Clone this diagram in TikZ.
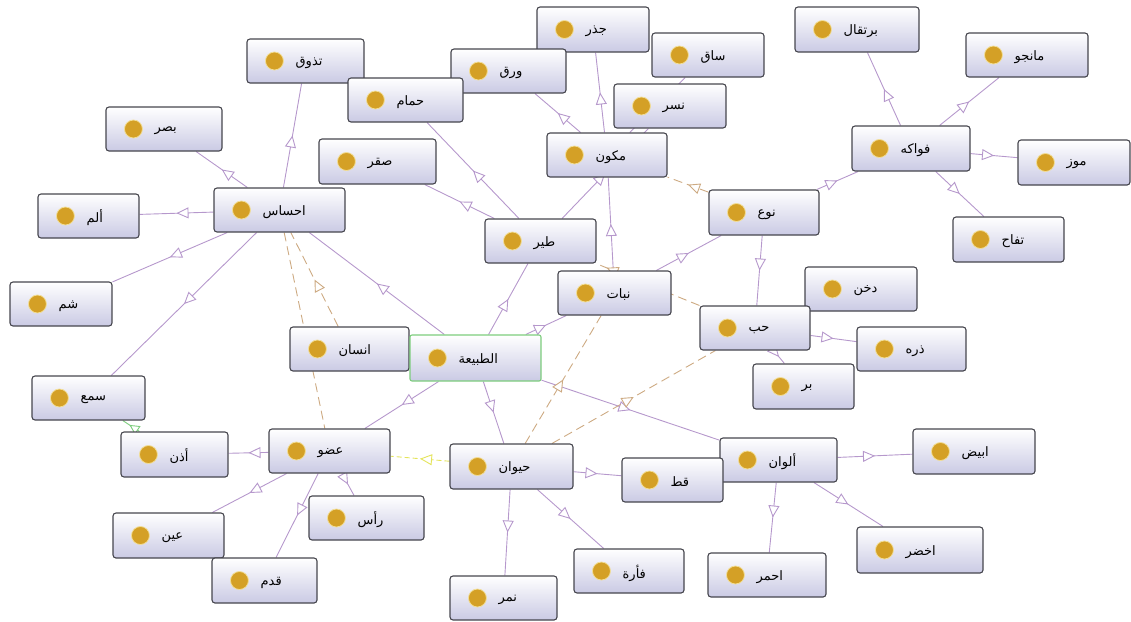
\documentclass[tikz,border=0pt]{standalone}
\usepackage{fontspec}
\newfontfamily\arabicfont[Script=Arabic]{DejaVu Sans}
\TeXXeTstate=1
\usetikzlibrary{arrows.meta,decorations.markings,backgrounds}
\definecolor{purp}{RGB}{182,152,204}
\definecolor{edgetan}{RGB}{205,170,130}
\definecolor{boxbot}{RGB}{202,202,228}
\definecolor{boxdraw}{RGB}{70,70,78}
\definecolor{dotgold}{RGB}{212,160,38}
\definecolor{dothalo}{RGB}{242,222,150}
\definecolor{greenb}{RGB}{125,205,125}
\definecolor{yel}{RGB}{228,228,90}
\tikzset{
  cls/.style={draw=boxdraw, line width=1.1pt, rounded corners=3pt, top color=white, bottom color=boxbot, inner sep=0pt},
  root/.style={draw=greenb, line width=1.1pt, rounded corners=2pt, top color=white, bottom color=boxbot, inner sep=0pt},
  lbl/.style={inner sep=0pt, text=black, font=\arabicfont\fontsize{13}{15}\selectfont},
  dotc/.style={fill=dotgold, draw=dothalo, line width=0.8pt},
  isa/.style={draw=purp, line width=0.9pt, postaction={decorate},
    decoration={markings, mark=at position #1 with {\arrow[draw=purp]{Triangle[length=12pt,width=11pt,fill=white,line width=0.9pt]}}}},
  isa/.default=0.5,
  rel/.style={draw=edgetan, line width=0.9pt, dash pattern=on 9pt off 5pt, postaction={decorate},
    decoration={markings, mark=at position #1 with {\arrow[draw=edgetan]{Triangle[length=12pt,width=11pt,fill=white,line width=0.9pt]}}}},
  rel/.default=0.5,
  relplain/.style={draw=edgetan, line width=0.9pt, dash pattern=on 9pt off 5pt},
  yrel/.style={draw=yel, line width=0.9pt, dash pattern=on 5pt off 3pt, postaction={decorate},
    decoration={markings, mark=at position #1 with {\arrow[draw=yel]{Triangle[length=12pt,width=11pt,fill=white,line width=0.9pt]}}}},
  yrel/.default=0.5,
  grel/.style={draw=greenb, line width=0.9pt, postaction={decorate},
    decoration={markings, mark=at position #1 with {\arrow[draw=greenb]{Triangle[length=10pt,width=10pt,fill=white,line width=0.9pt]}}}},
  grel/.default=0.6,
}
\newcommand\mkcls[7][cls]{%
  \node[#1, minimum width={#5-#3}, minimum height={#6-#4}] (#2) at ({(#3+#5)/2},{(#4+#6)/2}) {};
  \fill[dotc] ([xshift=28pt]#2.west) circle (9pt);
  \node[lbl, anchor=west] (#2-t) at ([xshift=49pt,yshift=-2pt]#2.west) {\beginR #7\endR};
}
\begin{document}
\begin{tikzpicture}[x=1pt,y=-1pt]
\useasboundingbox (0,0) rectangle (1131,621);
% nodes
\mkcls{tadhawwuq}{247}{39}{364}{83}{تذوق}
\mkcls{basar}{106}{107}{222}{151}{بصر}
\mkcls{alam}{38}{194}{139}{238}{ألم}
\mkcls{shamm}{10}{282}{112}{326}{شم}
\mkcls{ihsas}{214}{188}{345}{232}{احساس}
\mkcls{jidhr}{537}{7}{649}{52}{جذر}
\mkcls{saq}{652}{33}{764}{77}{ساق}
\mkcls{waraq}{451}{49}{566}{93}{ورق}
\mkcls{hamam}{348}{78}{463}{122}{حمام}
\mkcls{nasr}{614}{84}{726}{128}{نسر}
\mkcls{mukawwin}{547}{133}{667}{177}{مكون}
\mkcls{saqr}{319}{139}{436}{184}{صقر}
\mkcls{tayr}{485}{219}{596}{263}{طير}
\mkcls{nabat}{558}{271}{671}{315}{نبات}
\mkcls{burtuqal}{795}{7}{919}{52}{برتقال}
\mkcls{manju}{966}{33}{1088}{77}{مانجو}
\mkcls{fawakih}{852}{126}{970}{171}{فواكه}
\mkcls{mawz}{1018}{140}{1130}{185}{موز}
\mkcls{naw}{709}{190}{819}{235}{نوع}
\mkcls{tuffah}{953}{217}{1064}{262}{تفاح}
\mkcls{dukhn}{805}{267}{917}{311}{دخن}
\mkcls{habb}{700}{306}{810}{350}{حب}
\mkcls{dhura}{857}{327}{966}{371}{ذره}
\mkcls{burr}{753}{364}{854}{409}{بر}
\mkcls{alwan}{720}{438}{837}{482}{ألوان}
\mkcls{abyad}{913}{429}{1035}{474}{ابيض}
\mkcls{akhdar}{857}{527}{983}{573}{اخضر}
\mkcls{ahmar}{708}{553}{826}{597}{احمر}
\mkcls{insan}{290}{327}{409}{371}{انسان}
\mkcls{sam}{32}{376}{145}{420}{سمع}
\mkcls{udhun}{121}{432}{228}{477}{أذن}
\mkcls{udw}{269}{429}{390}{473}{عضو}
\mkcls{ayn}{113}{513}{224}{558}{عين}
\mkcls{ras}{309}{496}{424}{540}{رأس}
\mkcls{qadam}{212}{558}{317}{603}{قدم}
\mkcls[root]{tabia}{410}{335}{541}{381}{الطبيعة}
\mkcls{hayawan}{450}{444}{573}{489}{حيوان}
\mkcls{qitt}{622}{458}{723}{502}{قط}
\mkcls{fara}{574}{549}{684}{593}{فأرة}
\mkcls{nimr}{450}{576}{557}{620}{نمر}
% edges
\begin{pgfonlayer}{background}
\draw[isa] (ihsas) -- (tadhawwuq);
\draw[isa] (ihsas) -- (basar);
\draw[isa] (ihsas) -- (alam);
\draw[isa] (ihsas) -- (shamm);
\draw[isa] (ihsas) -- (sam);
\draw[isa] (tabia) -- (ihsas);
\draw[isa] (tabia) -- (tayr);
\draw[isa] (tabia) -- (nabat);
\draw[isa] (tabia) -- (udw);
\draw[isa] (tabia) -- (hayawan);
\draw[isa] (tabia) -- (alwan);
\draw[isa] (tayr) -- (hamam);
\draw[isa] (tayr) -- (saqr);
\draw[isa] (tayr) -- (nasr);
\draw[isa] (mukawwin) -- (waraq);
\draw[isa] (mukawwin) -- (jidhr);
\draw[isa] (mukawwin) -- (saq);
\draw[isa] (nabat) -- (mukawwin);
\draw[isa] (nabat) -- (naw);
\draw[isa] (naw) -- (fawakih);
\draw[isa] (naw) -- (habb);
\draw[isa] (fawakih) -- (burtuqal);
\draw[isa] (fawakih) -- (manju);
\draw[isa] (fawakih) -- (mawz);
\draw[isa] (fawakih) -- (tuffah);
\draw[isa] (habb) -- (dhura);
\draw[isa] (habb) -- (burr);
\draw[isa] (hayawan) -- (qitt);
\draw[isa] (hayawan) -- (fara);
\draw[isa] (hayawan) -- (nimr);
\draw[isa] (udw) -- (udhun);
\draw[isa] (udw) -- (ayn);
\draw[isa] (udw) -- (ras);
\draw[isa] (udw) -- (qadam);
\draw[isa] (alwan) -- (abyad);
\draw[isa] (alwan) -- (ahmar);
\draw[isa] (alwan) -- (akhdar);
% relations
\draw[relplain] (ihsas) -- (udw);
\draw[rel] (insan) -- (ihsas);
\draw[rel] (hayawan) -- (nabat);
\draw[rel] (hayawan) -- (habb);
\draw[rel=0.9] (habb) -- (tayr);
\draw[rel] (naw) -- (mukawwin);
\draw[yrel] (hayawan) -- (udw);
\draw[grel] (udhun) -- (sam);
\end{pgfonlayer}
\end{tikzpicture}
\end{document}
